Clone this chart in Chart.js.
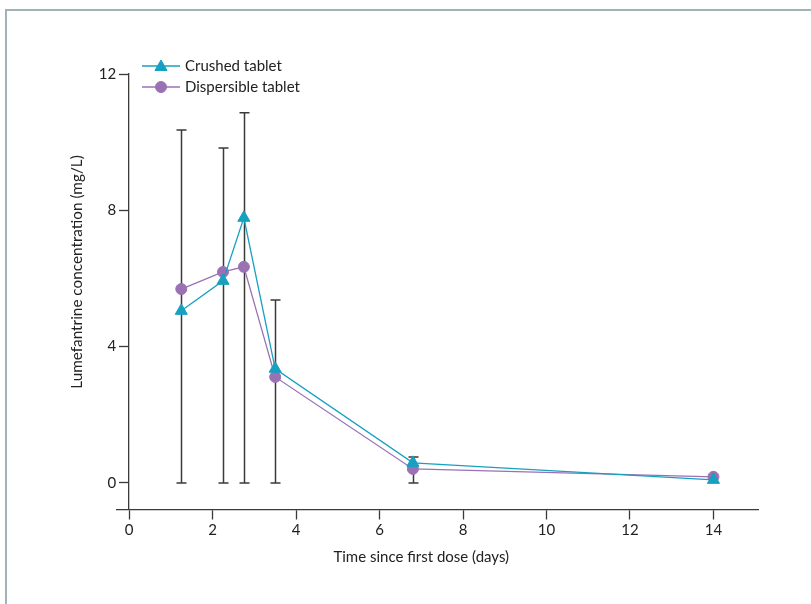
<!DOCTYPE html>
<html>
<head>
<meta charset="utf-8">
<title>Lumefantrine concentration</title>
<script src="https://cdn.jsdelivr.net/npm/chart.js@4/dist/chart.umd.min.js"></script>
<style>
  html, body { margin: 0; padding: 0; background: #fff; }
  #wrap { position: relative; width: 811px; height: 604px; overflow: hidden; }
  #frame { position: absolute; left: 5px; top: 9px; width: 900px; height: 700px;
           border-top: 2px solid #a2b3b7; border-left: 2px solid #a2b3b7; }
  #chart { position: absolute; left: 0; top: 0; }
</style>
</head>
<body>
<div id="wrap">
  <div id="frame"></div>
  <canvas id="chart" width="811" height="604"></canvas>
</div>
<script>
var FONT = 'Lato, "Open Sans", sans-serif';
var TEAL = '#17a0c0';
var PURPLE = '#9a72b4';
var INK = '#3a3a3a';
var TEXT = '#222';

// days since first dose
var timeDays = [1.25, 2.25, 2.75, 3.5, 6.8, 14];
// mean lumefantrine (mg/L)
var crushed = [5.05, 5.93, 7.78, 3.35, 0.59, 0.09];
var dispersible = [5.69, 6.19, 6.34, 3.11, 0.41, 0.18];
// range bars (mg/L), none on day 14
var errLow = [0, 0, 0, 0, 0, null];
var errHigh = [10.36, 9.83, 10.86, 5.37, 0.76, null];

var xTicks = [0, 2, 4, 6, 8, 10, 12, 14];
var yTicks = [0, 4, 8, 12];

var seriesNames = ['Crushed tablet', 'Dispersible tablet'];
var xTitle = 'Time since first dose (days)';
var yTitle = 'Lumefantrine concentration (mg/L)';

function points (values) {
  return timeDays.map(function (t, i) { return { x: t, y: values[i] }; });
}

function drawMarker (ctx, style, x, y, r, color) {
  if (Chart.helpers && Chart.helpers.drawPoint) {
    ctx.fillStyle = color;
    ctx.strokeStyle = color;
    ctx.lineWidth = 1;
    Chart.helpers.drawPoint(ctx, { pointStyle: style, radius: r, rotation: 0, borderWidth: 1 }, x, y);
    return;
  }
  ctx.beginPath();
  if (style === 'triangle') {
    for (var k = 0; k < 3; k++) {
      var a = k * 2 * Math.PI / 3;
      ctx.lineTo(x + Math.sin(a) * r, y - Math.cos(a) * r);
    }
    ctx.closePath();
  } else {
    ctx.arc(x, y, r, 0, 2 * Math.PI);
  }
  ctx.fillStyle = color;
  ctx.fill();
}

var extras = {
  id: 'extras',
  beforeDatasetsDraw: function (chart) {
    // vertical range bars with caps, behind the lines
    var ctx = chart.ctx, xs = chart.scales.x, ys = chart.scales.y;
    ctx.save();
    ctx.strokeStyle = INK;
    ctx.lineWidth = 1.5;
    for (var i = 0; i < timeDays.length; i++) {
      if (errHigh[i] == null) continue;
      var px = Math.round(xs.getPixelForValue(timeDays[i])) + 0.5;
      var top = ys.getPixelForValue(errHigh[i]);
      var bot = ys.getPixelForValue(errLow[i]);
      ctx.beginPath();
      ctx.moveTo(px, top); ctx.lineTo(px, bot);
      ctx.moveTo(px - 5, top); ctx.lineTo(px + 5, top);
      ctx.moveTo(px - 5, bot); ctx.lineTo(px + 5, bot);
      ctx.stroke();
    }
    ctx.restore();
  },
  afterDraw: function (chart) {
    var ctx = chart.ctx, area = chart.chartArea;
    var xs = chart.scales.x, ys = chart.scales.y;
    ctx.save();

    // y tick labels, to the left of the axis at x = 0
    var axisX = xs.getPixelForValue(0);
    ctx.fillStyle = TEXT;
    ctx.font = '15px ' + FONT;
    ctx.textAlign = 'right';
    ctx.textBaseline = 'middle';
    yTicks.forEach(function (v) {
      ctx.fillText(String(v), axisX - 13, ys.getPixelForValue(v));
    });

    // x title, centred on the 0-14 day span
    ctx.textAlign = 'center';
    ctx.fillText(xTitle, (xs.getPixelForValue(xTicks[0]) + xs.getPixelForValue(xTicks[xTicks.length - 1])) / 2, 557);

    // legend: line with marker, then label
    var styles = ['triangle', 'circle'];
    var radii = [7, 5.5];
    var colors = [TEAL, PURPLE];
    var lx = area.left + 25;
    for (var i = 0; i < seriesNames.length; i++) {
      var ly = area.top - 8 + i * 21;
      ctx.strokeStyle = colors[i];
      ctx.lineWidth = 1.3;
      ctx.beginPath();
      ctx.moveTo(lx, ly); ctx.lineTo(lx + 38, ly);
      ctx.stroke();
      drawMarker(ctx, styles[i], lx + 19, ly + (i === 0 ? 1 : 0), radii[i], colors[i]);
      ctx.fillStyle = TEXT;
      ctx.font = '15px ' + FONT;
      ctx.textAlign = 'left';
      ctx.textBaseline = 'middle';
      ctx.fillText(seriesNames[i], lx + 43, ly);
    }

    // y axis title, reading upwards
    ctx.translate(77, 272);
    ctx.rotate(-Math.PI / 2);
    ctx.fillStyle = TEXT;
    ctx.font = '15.3px ' + FONT;
    ctx.textAlign = 'center';
    ctx.textBaseline = 'middle';
    ctx.fillText(yTitle, 0, 0);
    ctx.restore();
  }
};

var ctx = document.getElementById('chart').getContext('2d');

var chart = new Chart(ctx, {
  type: 'line',
  data: {
    datasets: [{
      label: seriesNames[0],
      data: points(crushed),
      borderColor: TEAL,
      backgroundColor: TEAL,
      borderWidth: 1.3,
      pointStyle: 'triangle',
      pointRadius: 7,
      pointBorderWidth: 1,
      tension: 0
    }, {
      label: seriesNames[1],
      data: points(dispersible),
      borderColor: PURPLE,
      backgroundColor: PURPLE,
      borderWidth: 1.3,
      pointStyle: 'circle',
      pointRadius: 5.5,
      pointBorderWidth: 1,
      tension: 0
    }]
  },
  options: {
    responsive: false,
    animation: false,
    layout: {
      padding: { left: 117, right: 52.5, top: 74, bottom: 34.5 }
    },
    plugins: {
      legend: { display: false },
      tooltip: { enabled: false }
    },
    scales: {
      x: {
        type: 'linear',
        min: -0.29,
        max: 15.08,
        afterBuildTicks: function (s) { s.ticks = xTicks.map(function (v) { return { value: v }; }); },
        afterFit: function (s) { s.height = 60; },
        ticks: { color: TEXT, font: { family: FONT, size: 15 }, padding: 2 },
        grid: { drawOnChartArea: false, drawTicks: true, tickLength: 10, tickColor: INK, tickWidth: 1.3 },
        border: { color: INK, width: 1.3 }
      },
      y: {
        type: 'linear',
        min: -0.78,
        max: 12,
        position: { x: 0 },
        afterBuildTicks: function (s) { s.ticks = yTicks.map(function (v) { return { value: v }; }); },
        ticks: { display: false },
        grid: { drawOnChartArea: false, drawTicks: true, tickLength: 9, tickColor: INK, tickWidth: 1.3 },
        border: { color: INK, width: 1.3 }
      }
    }
  },
  plugins: [extras]
});
</script>
</body>
</html>
